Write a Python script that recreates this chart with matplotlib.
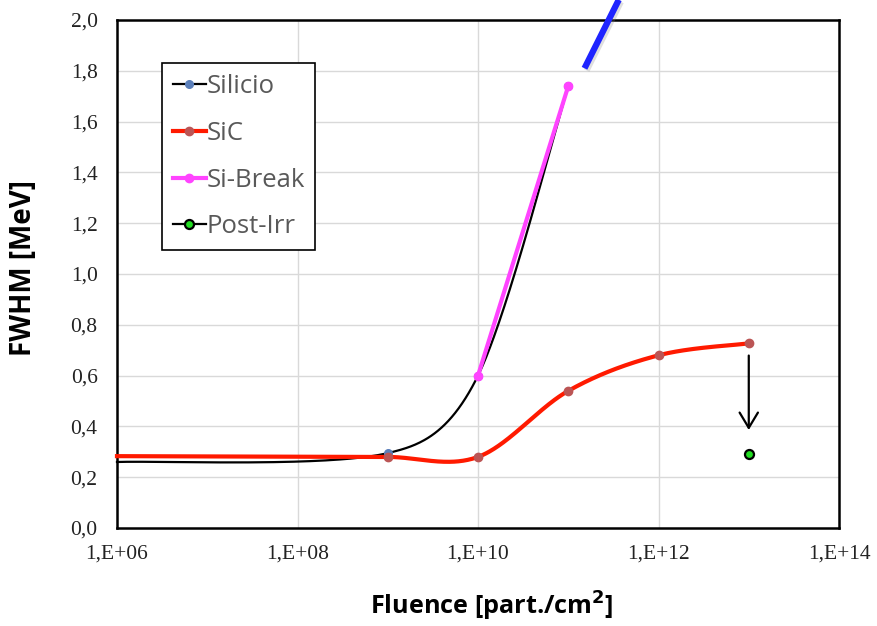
import numpy as np
import matplotlib
matplotlib.use("Agg")
import matplotlib.pyplot as plt
from matplotlib.ticker import FixedLocator, NullLocator
from matplotlib.lines import Line2D
import matplotlib.patheffects as pe

# ---- data ----
si_fluence = [1e6, 1e9, 1e10, 1e11]
si_fwhm = [0.26, 0.295, 0.60, 1.74]

sic_fluence = [1e6, 1e9, 1e10, 1e11, 1e12, 1e13]
sic_fwhm = [0.283, 0.28, 0.28, 0.54, 0.68, 0.727]

brk_fluence = [1e10, 1e11]
brk_fwhm = [0.60, 1.74]

post_fluence = [1e13]
post_fwhm = [0.29]

# guide line leaving the top of the plot (fluence, FWHM)
guide_fluence = [10**11.18, 10**11.56]
guide_fwhm = [1.81, 2.08]

x_ticks = [1e6, 1e8, 1e10, 1e12, 1e14]
x_tick_labels = ["1,E+06", "1,E+08", "1,E+10", "1,E+12", "1,E+14"]
y_ticks = [0.0, 0.2, 0.4, 0.6, 0.8, 1.0, 1.2, 1.4, 1.6, 1.8, 2.0]
y_tick_labels = ["0,0", "0,2", "0,4", "0,6", "0,8", "1,0", "1,2", "1,4", "1,6", "1,8", "2,0"]

XMIN, XMAX, YMIN, YMAX = 1e6, 1e14, 0.0, 2.0

fig = plt.figure(figsize=(8.77, 6.26), dpi=100)
ax = fig.add_axes([0.1334, 0.1565, 0.8233, 0.8115])
ax.set_xscale("log")
ax.set_xlim(XMIN, XMAX)
ax.set_ylim(YMIN, YMAX)

# screen-like scaling so the smoothing behaves like a spreadsheet chart
bbox = ax.get_position()
W = bbox.width * fig.get_figwidth() * fig.dpi
H = bbox.height * fig.get_figheight() * fig.dpi
SX = W / (np.log10(XMAX) - np.log10(XMIN))
SY = H / (YMAX - YMIN)


def smooth(xs, ys, n=80):
    """Cubic Bezier smoothing; handle length = |P[i+1]-P[i-1]|/6, capped by 1/3 of the segment."""
    u = np.log10(np.asarray(xs, float)) * SX
    v = np.asarray(ys, float) * SY
    P = np.column_stack([u, v])
    m = len(P)
    h = np.diff(u)

    def handle(i, seg_len):
        if i == 0 or i == m - 1:
            return None
        T = (P[i + 1] - P[i - 1]) / 6.0
        cap = seg_len / 3.0
        if T[0] > cap:
            T = T * cap / T[0]
        return T

    out = []
    for i in range(m - 1):
        a, b = P[i], P[i + 1]
        ta = handle(i, h[i])
        tb = handle(i + 1, h[i])
        c1 = a + (ta if ta is not None else (b - a) / 6.0)
        c2 = b - (tb if tb is not None else (b - a) / 6.0)
        t = np.linspace(0, 1, n)[:, None]
        seg = ((1 - t) ** 3) * a + 3 * ((1 - t) ** 2) * t * c1 + 3 * (1 - t) * t ** 2 * c2 + t ** 3 * b
        out.append(seg if i == 0 else seg[1:])
    S = np.vstack(out)
    return 10 ** (S[:, 0] / SX), S[:, 1] / SY


# grid
for xv in x_ticks[1:-1]:
    ax.axvline(xv, color="#d9d9d9", lw=1.0, zorder=0)
for yv in y_ticks[1:-1]:
    ax.axhline(yv, color="#d9d9d9", lw=1.0, zorder=0)

# Silicio
sx, sy = smooth(si_fluence, si_fwhm)
ax.plot(sx, sy, color="black", lw=1.6, zorder=3, clip_on=False)
ax.plot(si_fluence[1:], si_fwhm[1:], ls="none", marker="o", ms=5.5,
        mfc="#5b7fba", mec="#5b7fba", zorder=4)

# SiC
cx, cy = smooth(sic_fluence, sic_fwhm)
ax.plot(cx, cy, color="#ff1a00", lw=3.0, zorder=3, clip_on=False)
ax.plot(sic_fluence[1:], sic_fwhm[1:], ls="none", marker="o", ms=6,
        mfc="#bb5555", mec="#bb5555", zorder=4)

# Si-Break
ax.plot(brk_fluence, brk_fwhm, color="#ff44ff", lw=3.0, marker="o", ms=6,
        mfc="#ff44ff", mec="#ff44ff", zorder=5)

# Post-Irr
ax.plot(post_fluence, post_fwhm, ls="none", marker="o", ms=6.5,
        mfc="#22dd22", mec="black", mew=1.6, zorder=5)

# arrow from last SiC point to the post-irradiation value
ax.annotate("", xy=(post_fluence[0], 0.375), xytext=(post_fluence[0], 0.69),
            arrowprops=dict(arrowstyle="->,head_length=0.5,head_width=0.3", color="black",
                            lw=1.6, mutation_scale=22), zorder=6)

# blue guide line
ax.plot(guide_fluence, guide_fwhm, color="#1f24ff", lw=4.5, clip_on=False,
        solid_capstyle="butt", zorder=7,
        path_effects=[pe.SimpleLineShadow(offset=(1.5, -1.5), alpha=0.25, shadow_color="gray"),
                      pe.Normal()])

# axes styling
for s in ax.spines.values():
    s.set_color("black")
    s.set_linewidth(1.8)
ax.xaxis.set_major_locator(FixedLocator(x_ticks))
ax.xaxis.set_minor_locator(NullLocator())
ax.set_xticklabels(x_tick_labels)
ax.set_yticks(y_ticks)
ax.set_yticklabels(y_tick_labels)
ax.tick_params(axis="both", length=0, labelsize=15.5)
ax.tick_params(axis="x", pad=12)
ax.tick_params(axis="y", pad=14)
for lab in ax.get_xticklabels() + ax.get_yticklabels():
    lab.set_fontfamily("Liberation Serif")
    lab.set_color("#222222")

fig.text(492 / 877, 1 - 615 / 626, "Fluence [part./cm$^\\mathbf{2}$]", ha="center", va="baseline",
         fontsize=18.2, fontweight="bold", family="Open Sans")
fig.text(38 / 877, 1 - 268 / 626, "FWHM [MeV]", ha="right", va="center", rotation=90,
         fontsize=20, fontweight="bold", family="Open Sans")

# legend
handles = [
    Line2D([], [], color="black", lw=1.6, marker="o", ms=5.5, mfc="#5b7fba", mec="#5b7fba"),
    Line2D([], [], color="#ff1a00", lw=3.0, marker="o", ms=6, mfc="#bb5555", mec="#bb5555"),
    Line2D([], [], color="#ff44ff", lw=3.0, marker="o", ms=6, mfc="#ff44ff", mec="#ff44ff"),
    Line2D([], [], color="black", lw=1.6, marker="o", ms=6.5, mfc="#22dd22", mec="black", mew=1.6),
]
leg = ax.legend(handles, ["Silicio", "SiC", "Si-Break", "Post-Irr"],
                loc="upper left", bbox_to_anchor=((162 - 117) / W, (528 - 63) / H),
                frameon=True, fancybox=False, edgecolor="black", framealpha=1,
                prop={"family": "Open Sans", "size": 18.5}, handlelength=1.3,
                handletextpad=0.0, labelspacing=0.85, borderpad=0.42, borderaxespad=0)
leg.get_frame().set_linewidth(1.2)
for t in leg.get_texts():
    t.set_color("#595959")
leg.set_zorder(10)

fig.savefig("out.png", dpi=100)
